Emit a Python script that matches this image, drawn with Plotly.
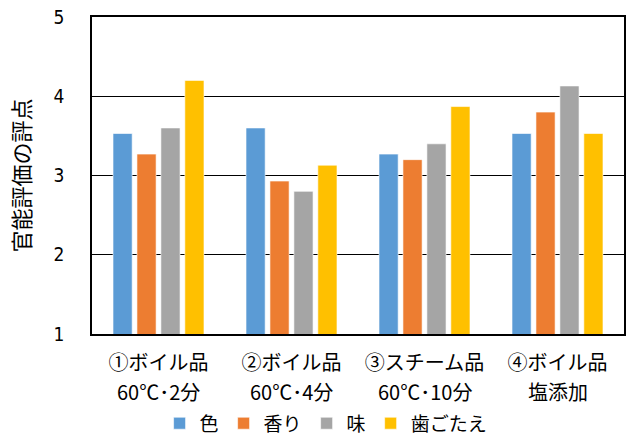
import plotly.graph_objects as go

# Sensory evaluation scores (mean of panel ratings) per sample
sample_names = ["①ボイル品", "②ボイル品", "③スチーム品", "④ボイル品"]
sample_conditions = ["60℃･2分", "60℃･4分", "60℃･10分", "塩添加"]
series_names = ["色", "香り", "味", "歯ごたえ"]
color_vals = [3.53, 3.60, 3.27, 3.53]
aroma_vals = [3.27, 2.93, 3.20, 3.80]
taste_vals = [3.60, 2.80, 3.40, 4.13]
texture_vals = [4.20, 3.13, 3.87, 3.53]
y_ticks = [1, 2, 3, 4, 5]

colors = ["#5B9BD5", "#ED7D31", "#A5A5A5", "#FFC000"]
all_vals = [color_vals, aroma_vals, taste_vals, texture_vals]

FONT = "Noto Sans CJK JP"
DIGITS = "DejaVu Sans Condensed, Noto Sans CJK JP"

fig = go.Figure()
for name, vals, col in zip(series_names, all_vals, colors):
    fig.add_trace(go.Bar(
        x=sample_names, y=vals, name=name,
        marker=dict(color=col, line=dict(color="rgba(255,255,255,0.6)", width=1)),
        base=0,
    ))

# second line of each category label (processing condition)
for name, cond in zip(sample_names, sample_conditions):
    fig.add_annotation(x=name, xref="x", y=-0.18, yref="paper", yanchor="middle",
                       text=cond, showarrow=False,
                       font=dict(family=FONT, size=20, color="#000000"))

fig.update_layout(
    width=633, height=441,
    margin=dict(l=92, r=9, t=17, b=107),
    paper_bgcolor="white", plot_bgcolor="white",
    barmode="group", bargap=0.28, bargroupgap=0.2,
    font=dict(family=FONT, color="#000000", size=18),
    showlegend=True,
    legend=dict(orientation="h", x=0.44, xanchor="center",
                yref="container", y=0.04, yanchor="middle",
                font=dict(family=FONT, size=19), itemwidth=30, traceorder="normal"),
    xaxis=dict(
        showgrid=False, showline=True, linecolor="#000000", linewidth=1.5, mirror=True,
        ticks="", automargin=False, ticklabelstandoff=10,
        tickfont=dict(family=FONT, size=20, color="#000000"),
    ),
    yaxis=dict(
        range=[1, 5], tickvals=y_ticks, showgrid=True, gridcolor="#000000", gridwidth=1,
        showline=True, linecolor="#000000", linewidth=1.5, mirror=True,
        ticks="", ticklabelstandoff=22, automargin=False,
        tickfont=dict(family=DIGITS, size=19, color="#000000"),
        title=dict(text="官能評価の評点", font=dict(family=FONT, size=22), standoff=17),
    ),
)

fig.write_html("out.html")
